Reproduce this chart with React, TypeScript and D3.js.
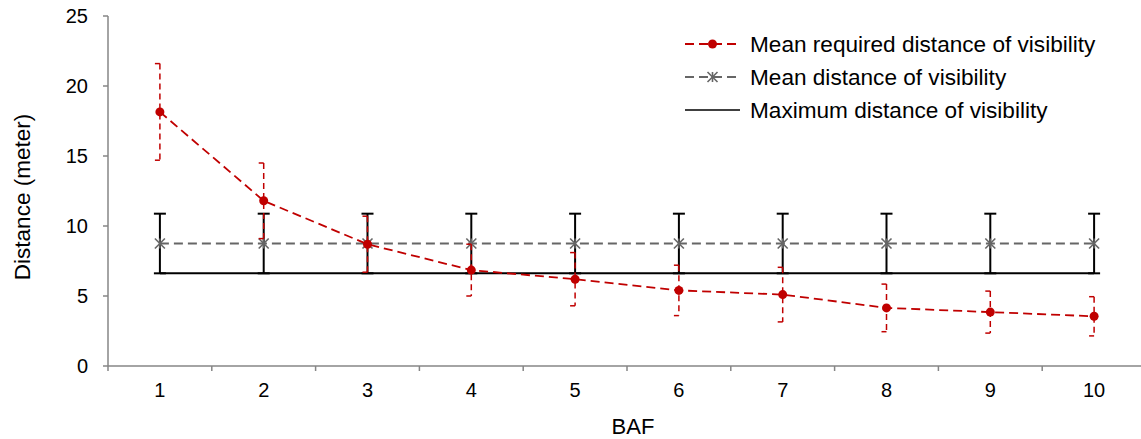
import React from "react";
import * as d3 from "d3";

const categories = [1, 2, 3, 4, 5, 6, 7, 8, 9, 10];
const meanRequired = [18.15, 11.8, 8.7, 6.85, 6.2, 5.4, 5.1, 4.15, 3.85, 3.55];
const meanRequiredErr = [3.45, 2.7, 2.0, 1.85, 1.9, 1.8, 1.95, 1.7, 1.5, 1.4];
const meanVisibility = [8.75, 8.75, 8.75, 8.75, 8.75, 8.75, 8.75, 8.75, 8.75, 8.75];
const meanVisibilityErr = [2.13, 2.13, 2.13, 2.13, 2.13, 2.13, 2.13, 2.13, 2.13, 2.13];
const maxVisibility = [6.62, 6.62, 6.62, 6.62, 6.62, 6.62, 6.62, 6.62, 6.62, 6.62];
const yTicks = [0, 5, 10, 15, 20, 25];
const legendLabels = [
  "Mean required distance of visibility",
  "Mean distance of visibility",
  "Maximum distance of visibility",
];

const W = 1141;
const H = 439;
const left = 108;
const top = 16;
const bottom = 366;
const bandW = 103.8;

export default function App() {
  const x = d3
    .scaleBand<number>()
    .domain(categories)
    .range([left, left + bandW * categories.length])
    .paddingInner(0)
    .paddingOuter(0);
  const cx = (c: number) => (x(c) as number) + x.bandwidth() / 2;
  const y = d3.scaleLinear().domain([0, 25]).range([bottom, top]);

  const line = d3
    .line<number>()
    .x((_, i) => cx(categories[i]))
    .y((d) => y(d));

  const axisColor = "#868686";
  const red = "#C00000";
  const gray = "#666666";
  const font = "Arial, 'Liberation Sans', sans-serif";

  const star = (px: number, py: number, key: string | number) => {
    const s = 5;
    return (
      <g key={key} stroke={gray} strokeWidth={1.6}>
        <line x1={px - s} y1={py - s} x2={px + s} y2={py + s} />
        <line x1={px - s} y1={py + s} x2={px + s} y2={py - s} />
        <line x1={px} y1={py - s} x2={px} y2={py + s} />
      </g>
    );
  };

  const legendX0 = 685;
  const legendX1 = 740;
  const legendYs = [44, 77, 110];

  return (
    <svg width={W} height={H} style={{ position: "absolute", left: 0, top: 0 }} fontFamily={font}>
      <rect width={W} height={H} fill="#fff" />
      {/* axes */}
      <line x1={left} y1={top} x2={left} y2={bottom} stroke={axisColor} strokeWidth={1.5} />
      <line x1={left} y1={bottom} x2={left + bandW * categories.length} y2={bottom} stroke={axisColor} strokeWidth={1.5} />
      {yTicks.map((t) => (
        <g key={t}>
          <line x1={left - 5} x2={left} y1={y(t)} y2={y(t)} stroke={axisColor} strokeWidth={1.5} />
          <text x={88} y={y(t)} dy="0.36em" textAnchor="end" fontSize={20} fill="#000">
            {t}
          </text>
        </g>
      ))}
      {categories.map((c) => (
        <line key={"xt" + c} x1={x(c) as number} x2={x(c) as number} y1={bottom} y2={bottom + 5} stroke={axisColor} strokeWidth={1.5} />
      ))}
      <line x1={left + bandW * categories.length} x2={left + bandW * categories.length} y1={bottom} y2={bottom + 5} stroke={axisColor} strokeWidth={1.5} />
      {categories.map((c) => (
        <text key={"xl" + c} x={cx(c)} y={397} textAnchor="middle" fontSize={20} fill="#000">
          {c}
        </text>
      ))}
      <text x={633} y={434} textAnchor="middle" fontSize={22} fill="#000">
        BAF
      </text>
      <text transform={`translate(30,197) rotate(-90)`} textAnchor="middle" fontSize={22.5} fill="#000">
        Distance (meter)
      </text>

      {/* maximum line */}
      <path d={line(maxVisibility) as string} fill="none" stroke="#000" strokeWidth={2} />
      {/* black error bars on mean visibility */}
      {categories.map((c, i) => {
        const px = cx(c);
        const hi = y(meanVisibility[i] + meanVisibilityErr[i]);
        const lo = y(meanVisibility[i] - meanVisibilityErr[i]);
        return (
          <g key={"eb" + c} stroke="#000" strokeWidth={2}>
            <line x1={px} x2={px} y1={hi} y2={lo} />
            <line x1={px - 6} x2={px + 6} y1={hi} y2={hi} />
            <line x1={px - 6} x2={px + 6} y1={lo} y2={lo} />
          </g>
        );
      })}
      {/* mean visibility line */}
      <path d={line(meanVisibility) as string} fill="none" stroke={gray} strokeWidth={2} strokeDasharray="9,5" />
      {categories.map((c, i) => star(cx(c), y(meanVisibility[i]), "st" + c))}

      {/* red error bars */}
      {categories.map((c, i) => {
        const px = cx(c);
        const hi = y(meanRequired[i] + meanRequiredErr[i]);
        const lo = y(meanRequired[i] - meanRequiredErr[i]);
        return (
          <g key={"rb" + c} stroke={red} strokeWidth={1.5} fill="none">
            <line x1={px} x2={px} y1={hi} y2={lo} strokeDasharray="6,4" />
            <line x1={px - 5} x2={px} y1={hi} y2={hi} />
            <line x1={px - 5} x2={px} y1={lo} y2={lo} />
          </g>
        );
      })}
      <path d={line(meanRequired) as string} fill="none" stroke={red} strokeWidth={1.8} strokeDasharray="9,5" />
      {categories.map((c, i) => (
        <circle key={"pt" + c} cx={cx(c)} cy={y(meanRequired[i])} r={4.5} fill={red} />
      ))}

      {/* legend */}
      <g>
        <line x1={legendX0} x2={legendX1} y1={legendYs[0]} y2={legendYs[0]} stroke={red} strokeWidth={1.8} strokeDasharray="9,5" />
        <circle cx={(legendX0 + legendX1) / 2} cy={legendYs[0]} r={4.5} fill={red} />
        <line x1={legendX0} x2={legendX1} y1={legendYs[1]} y2={legendYs[1]} stroke={gray} strokeWidth={2} strokeDasharray="9,5" />
        {star((legendX0 + legendX1) / 2, legendYs[1], "lgst")}
        <line x1={legendX0} x2={legendX1} y1={legendYs[2]} y2={legendYs[2]} stroke="#000" strokeWidth={1.5} />
        {legendLabels.map((l, i) => (
          <text key={l} x={750} y={legendYs[i]} dy="0.36em" fontSize={22.6} fill="#000">
            {l}
          </text>
        ))}
      </g>
    </svg>
  );
}
